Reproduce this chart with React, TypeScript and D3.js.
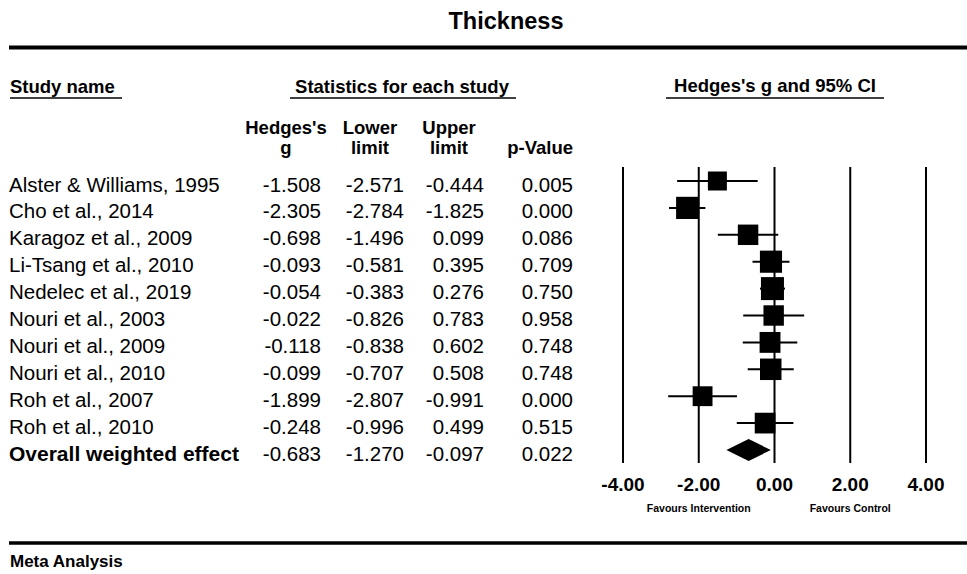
import * as d3 from "d3";

const studies = [
  "Alster & Williams, 1995",
  "Cho et al., 2014",
  "Karagoz et al., 2009",
  "Li-Tsang et al., 2010",
  "Nedelec et al., 2019",
  "Nouri et al., 2003",
  "Nouri et al., 2009",
  "Nouri et al., 2010",
  "Roh et al., 2007",
  "Roh et al., 2010",
];
const hedgesG = [-1.508, -2.305, -0.698, -0.093, -0.054, -0.022, -0.118, -0.099, -1.899, -0.248];
const lowerLimit = [-2.571, -2.784, -1.496, -0.581, -0.383, -0.826, -0.838, -0.707, -2.807, -0.996];
const upperLimit = [-0.444, -1.825, 0.099, 0.395, 0.276, 0.783, 0.602, 0.508, -0.991, 0.499];
const pValues = ["0.005", "0.000", "0.086", "0.709", "0.750", "0.958", "0.748", "0.748", "0.000", "0.515"];

const overallLabel = "Overall weighted effect";
const overall = { g: -0.683, lo: -1.27, hi: -0.097, p: "0.022" };

const axisTicks = [-4, -2, 0, 2, 4];

const W = 967;
const H = 574;
const FONT = "'Liberation Sans', Arial, Helvetica, sans-serif";

// d3 uses a real minus sign, the reference uses a hyphen
const fmt3 = (v: number) => d3.format(".3f")(v).replace("\u2212", "-");
const fmt2 = (v: number) => d3.format(".2f")(v).replace("\u2212", "-");

export default function App() {
  const rowNames = [...studies, overallLabel];
  const y = d3.scalePoint<string>().domain(rowNames).range([181, 450]);
  const x = d3.scaleLinear().domain([-4, 4]).range([623, 926]);

  // bigger boxes for tighter intervals
  const widths = studies.map((_, i) => upperLimit[i] - lowerLimit[i]);
  const box = d3.scaleLinear().domain(d3.extent(widths) as [number, number]).range([23, 19]);

  // right edges of the number columns
  const colRight = [321, 404, 484, 573];

  const rowText = (vals: string[], yy: number) =>
    vals.map((v, j) => (
      <text key={j} x={colRight[j]} y={yy + 10.5} textAnchor="end" fontSize={20.5}>
        {v}
      </text>
    ));

  const oy = y(overallLabel)!;

  return (
    <svg width={W} height={H} style={{ position: "absolute", left: 0, top: 0, background: "#fff" }} fontFamily={FONT}>
      <text x={506} y={29} textAnchor="middle" fontSize={23.5} fontWeight="bold">Thickness</text>
      <line x1={9} x2={W} y1={47.5} y2={47.5} stroke="#000" strokeWidth={4} />

      {/* header row */}
      <g fontWeight="bold" fontSize={18.5}>
        <text x={10} y={93}>Study name</text>
        <line x1={10} x2={122} y1={98} y2={98} stroke="#000" strokeWidth={1.5} />
        <text x={402} y={93} textAnchor="middle">Statistics for each study</text>
        <line x1={290} x2={516} y1={98} y2={98} stroke="#000" strokeWidth={1.5} />
        <text x={775} y={92} textAnchor="middle">Hedges's g and 95% CI</text>
        <line x1={666} x2={884} y1={98} y2={98} stroke="#000" strokeWidth={1.5} />

        <text x={286} y={134} textAnchor="middle">Hedges's</text>
        <text x={286} y={154} textAnchor="middle">g</text>
        <text x={370} y={134} textAnchor="middle">Lower</text>
        <text x={370} y={154} textAnchor="middle">limit</text>
        <text x={449} y={134} textAnchor="middle">Upper</text>
        <text x={449} y={154} textAnchor="middle">limit</text>
        <text x={colRight[3]} y={154} textAnchor="end">p-Value</text>
      </g>

      {/* table rows */}
      {studies.map((s, i) => {
        const yy = y(s)!;
        return (
          <g key={s}>
            <text x={9} y={yy + 10.5} fontSize={20.5}>{s}</text>
            {rowText([fmt3(hedgesG[i]), fmt3(lowerLimit[i]), fmt3(upperLimit[i]), pValues[i]], yy)}
          </g>
        );
      })}
      <text x={9} y={oy + 10.5} fontSize={21} fontWeight="bold">{overallLabel}</text>
      {rowText([fmt3(overall.g), fmt3(overall.lo), fmt3(overall.hi), overall.p], oy)}

      {/* forest plot */}
      {axisTicks.map((t) => (
        <g key={t}>
          <line x1={x(t)} x2={x(t)} y1={167} y2={463} stroke="#000" strokeWidth={2} />
          <text x={x(t)} y={491} textAnchor="middle" fontSize={19} fontWeight="bold">
            {fmt2(t)}
          </text>
        </g>
      ))}
      {studies.map((s, i) => {
        const yy = y(s)!;
        const sz = box(widths[i]);
        return (
          <g key={s}>
            <line x1={x(lowerLimit[i])} x2={x(upperLimit[i])} y1={yy} y2={yy} stroke="#000" strokeWidth={2} />
            <rect x={x(hedgesG[i]) - sz / 2} y={yy - sz / 2} width={sz} height={sz} fill="#000" />
          </g>
        );
      })}
      <path
        d={`M${x(overall.lo)},${oy}L${x(overall.g)},${oy - 11}L${x(overall.hi)},${oy}L${x(overall.g)},${oy + 11}Z`}
        fill="#000"
      />
      <text x={x(-2)} y={512} textAnchor="middle" fontSize={10.5} fontWeight="bold">Favours Intervention</text>
      <text x={x(2)} y={512} textAnchor="middle" fontSize={10.5} fontWeight="bold">Favours Control</text>

      <line x1={9} x2={W} y1={543} y2={543} stroke="#000" strokeWidth={3.5} />
      <text x={10} y={567} fontSize={17} fontWeight="bold">Meta Analysis</text>
    </svg>
  );
}
